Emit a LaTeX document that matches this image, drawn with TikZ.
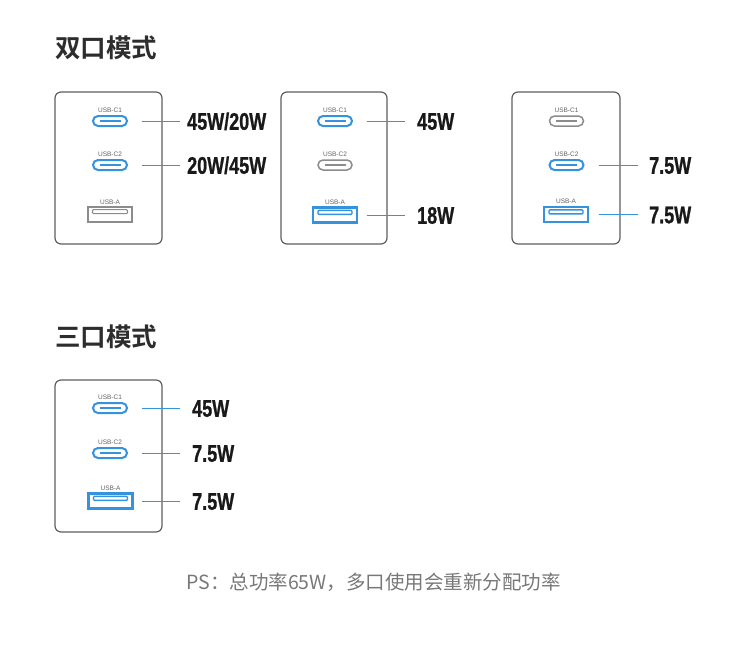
\documentclass[tikz,border=0pt]{standalone}
\usepackage{fontspec}
\usepackage{tikz}
\usetikzlibrary{positioning, calc}
\setmainfont{Liberation Sans}
\newfontfamily\cjk{Noto Sans CJK SC}
\newfontfamily\cjkbold{Noto Sans CJK SC Bold}
\newfontfamily\numfont{Liberation Sans Bold}[FakeStretch=0.75, FakeBold=0.8]
\definecolor{portblue}{RGB}{52,146,222}
\definecolor{portgray}{RGB}{140,140,140}
\definecolor{myframe}{RGB}{95,95,95}
\definecolor{inkdark}{RGB}{25,25,25}
\definecolor{hdrdark}{RGB}{45,45,45}
\definecolor{notegray}{RGB}{120,120,120}
\definecolor{lblgray}{RGB}{100,100,100}
\tikzset{
  charger/.style={rectangle, draw=myframe, line width=1.2pt,
    rounded corners=6pt, minimum width=107pt, minimum height=152pt, inner sep=0pt},
  cport/.style={rectangle, rounded corners=5pt, minimum width=34pt,
    minimum height=10pt, inner sep=0pt},
  bluec/.style={cport, draw=portblue, line width=2pt,
    path picture={\draw[portblue, line width=2pt]
      ([xshift=6.5pt]path picture bounding box.west) -- ([xshift=-6.5pt]path picture bounding box.east);}},
  grayc/.style={cport, draw=portgray, line width=1.5pt,
    path picture={\draw[portgray, line width=1.8pt]
      ([xshift=6.5pt]path picture bounding box.west) -- ([xshift=-6.5pt]path picture bounding box.east);}},
  aport/.style={rectangle, minimum width=44pt, minimum height=15pt, inner sep=0pt},
  bluea/.style={aport, draw=portblue, line width=2.2pt,
    path picture={\draw[portblue, line width=1.4pt, rounded corners=1pt]
      ([xshift=5pt,yshift=-2.8pt]path picture bounding box.north west) rectangle
      ([xshift=-5pt,yshift=-6.8pt]path picture bounding box.north east);}},
  graya/.style={aport, draw=portgray, line width=1.4pt,
    path picture={\draw[portgray, line width=1.2pt, rounded corners=1pt]
      ([xshift=4.5pt,yshift=-2.6pt]path picture bounding box.north west) rectangle
      ([xshift=-4.5pt,yshift=-6.6pt]path picture bounding box.north east);}},
  plbl/.style={font=\fontsize{6.5}{6.5}\selectfont, text=lblgray, inner sep=0.5pt},
  watt/.style={font=\numfont\fontsize{24}{24}\selectfont, text=inkdark,
    inner sep=0pt, anchor=west, text height=17.5pt, text depth=0pt},
  lead/.style={portblue, line width=1pt},
  hdr/.style={font=\cjkbold\fontsize{25.5}{25.5}\selectfont, text=hdrdark,
    inner sep=0pt, anchor=west},
  note/.style={font=\cjk\fontsize{19.5}{19.5}\selectfont, text=notegray, inner sep=0pt}
}
\begin{document}
\begin{tikzpicture}[x=1pt, y=-1pt]
  \fill[white] (0,0) rectangle (750,654);
  \useasboundingbox (0,0) rectangle (750,654);

  % two-port modes
  \node[hdr] (h1) at (55,48) {双口模式};

  \node[charger] (u1) at (108.5,168) {};
  \node[bluec, label={[plbl, label distance=1.5pt]above:USB-C1}] (c11) at (110,121) {};
  \node[bluec, label={[plbl, label distance=1.5pt]above:USB-C2}] (c12) at (110,165) {};
  \node[graya, label={[plbl, label distance=1.5pt]above:USB-A}]  (a1)  at (110,214.5) {};
  \node[watt] (w11) at (187,121) {45W/20W};
  \node[watt] (w12) at (187,165) {20W/45W};
  \draw[lead] ([xshift=-21pt]c11 -| u1.east) -- ([xshift=-7pt]w11.west);
  \draw[lead] ([xshift=-21pt]c12 -| u1.east) -- ([xshift=-7pt]w12.west);

  \node[charger, minimum width=106pt] (u2) at (334,168) {};
  \node[bluec, label={[plbl, label distance=1.5pt]above:USB-C1}] (c21) at (335,121) {};
  \node[grayc, label={[plbl, label distance=1.5pt]above:USB-C2}] (c22) at (335,165) {};
  \node[bluea, label={[plbl, label distance=1.5pt]above:USB-A}]  (a2)  at (335,215) {};
  \node[watt] (w21) at (417,121) {45W};
  \node[watt] (w23) at (417,215) {18W};
  \draw[lead] ([xshift=-21pt]c21 -| u2.east) -- ([xshift=-12pt]w21.west);
  \draw[lead] ([xshift=-21pt]a2 -| u2.east)  -- ([xshift=-12pt]w23.west);

  \node[charger, minimum width=108pt] (u3) at (566,168) {};
  \node[grayc, label={[plbl, label distance=1.5pt]above:USB-C1}] (c31) at (566.5,121) {};
  \node[bluec, label={[plbl, label distance=1.5pt]above:USB-C2}] (c32) at (566.5,165) {};
  \node[bluea, label={[plbl, label distance=1.5pt]above:USB-A}]  (a3)  at (566,214.5) {};
  \node[watt] (w32) at (649,165) {7.5W};
  \node[watt] (w33) at (649,214.5) {7.5W};
  \draw[lead] ([xshift=-22pt]c32 -| u3.east) -- ([xshift=-11pt]w32.west);
  \draw[lead] ([xshift=-22pt]a3 -| u3.east)  -- ([xshift=-11pt]w33.west);

  % three-port mode
  \node[hdr] (h2) at (55,337) {三口模式};

  \node[charger] (u4) at (108.5,456) {};
  \node[bluec, label={[plbl, label distance=1.5pt]above:USB-C1}] (c41) at (110,408) {};
  \node[bluec, label={[plbl, label distance=1.5pt]above:USB-C2}] (c42) at (110,453) {};
  \node[bluea, label={[plbl, label distance=1.5pt]above:USB-A}]  (a4)  at (110.5,501) {};
  \node[watt] (w41) at (192,408) {45W};
  \node[watt] (w42) at (192,453) {7.5W};
  \node[watt] (w43) at (192,501) {7.5W};
  \draw[lead] ([xshift=-21pt]c41 -| u4.east) -- ([xshift=-12pt]w41.west);
  \draw[lead] ([xshift=-21pt]c42 -| u4.east) -- ([xshift=-12pt]w42.west);
  \draw[lead] ([xshift=-21pt]a4 -| u4.east)  -- ([xshift=-12pt]w43.west);

  \node[note] (ps) at (373.5,582) {PS：总功率65W，多口使用会重新分配功率};
\end{tikzpicture}
\end{document}
